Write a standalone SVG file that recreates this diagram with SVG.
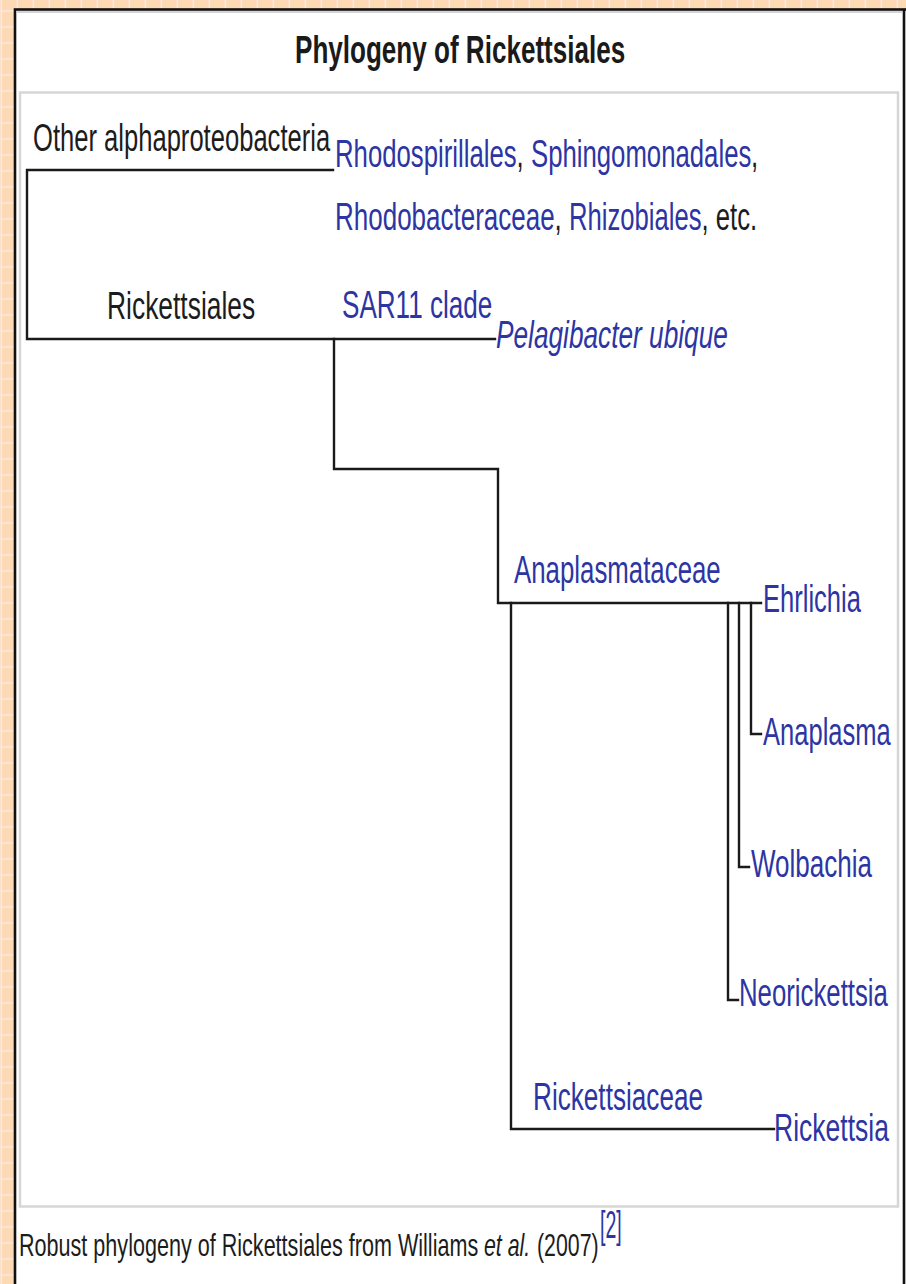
<svg xmlns="http://www.w3.org/2000/svg" width="906" height="1284" viewBox="0 0 906 1284">
<defs>
<pattern id="chk" patternUnits="userSpaceOnUse" x="0" y="0" width="16" height="16">
<rect width="16" height="16" fill="#fddab3"/>
<rect x="0.5" y="0" width="1.6" height="16" fill="#fbe6e4"/>
<rect x="0" y="10.3" width="16" height="1.6" fill="#fbe6e4"/>
</pattern>
<style>
.t{font-family:"Liberation Sans",Arial,sans-serif;font-size:38px}
.c{font-size:31px}
.lk{fill:#2c35a3}
.bk{fill:#1c1c1c}
.it{font-style:italic}
.br{fill:none;stroke:#1a1a1a;stroke-width:2.4;stroke-linecap:square;stroke-linejoin:miter}
</style>
</defs>
<rect width="906" height="1284" fill="url(#chk)"/>
<rect x="15" y="9.5" width="900" height="1290" fill="#ffffff" stroke="#111" stroke-width="2.6"/>
<line x1="16.5" y1="12" x2="902" y2="12" stroke="#d4d4d4" stroke-width="2"/>
<line x1="904" y1="9" x2="904" y2="1284" stroke="#111" stroke-width="2.6"/>
<rect x="20" y="92.5" width="878" height="1114" fill="none" stroke="#d6d6d6" stroke-width="2.5"/>

<g id="title"><text class="t" transform="translate(295 63) scale(0.65 1)" font-weight="bold" font-size="40" textLength="508" lengthAdjust="spacingAndGlyphs" fill="#1a1a1a">Phylogeny of Rickettsiales</text></g>

<g id="connectors">
<polyline class="br" points="333,170 27,170 27,339 495,339"/>
<polyline class="br" points="334,339 334,469 498,469 498,603 761,603"/>
<polyline class="br" points="511,603 511,1129 774,1129"/>
<polyline class="br" points="751,603 751,734 761,734"/>
<polyline class="br" points="739,603 739,867 749,867"/>
<polyline class="br" points="728,603 728,1000 738,1000"/>
</g>

<g id="node-other"><text class="t bk" transform="translate(33 151) scale(0.68 1)" textLength="437" lengthAdjust="spacingAndGlyphs">Other alphaproteobacteria</text></g>
<g id="node-other-members">
<text class="t lk" transform="translate(335 167) scale(0.68 1)" textLength="267" lengthAdjust="spacingAndGlyphs">Rhodospirillales</text>
<text class="t bk" transform="translate(516.5 167) scale(0.68 1)">,</text>
<text class="t lk" transform="translate(531 167) scale(0.68 1)" textLength="324" lengthAdjust="spacingAndGlyphs">Sphingomonadales</text>
<text class="t bk" transform="translate(751 167) scale(0.68 1)">,</text>
<text class="t lk" transform="translate(335 230) scale(0.68 1)" textLength="323" lengthAdjust="spacingAndGlyphs">Rhodobacteraceae</text>
<text class="t bk" transform="translate(554.5 230) scale(0.68 1)">,</text>
<text class="t lk" transform="translate(569 230) scale(0.68 1)" textLength="195" lengthAdjust="spacingAndGlyphs">Rhizobiales</text>
<text class="t bk" transform="translate(701.5 230) scale(0.68 1)" textLength="82" lengthAdjust="spacingAndGlyphs">, etc.</text>
</g>
<g id="node-rickettsiales"><text class="t bk" transform="translate(107 319) scale(0.68 1)" textLength="218" lengthAdjust="spacingAndGlyphs">Rickettsiales</text></g>
<g id="node-sar11"><text class="t lk" transform="translate(342 318) scale(0.68 1)" textLength="221" lengthAdjust="spacingAndGlyphs">SAR11 clade</text></g>
<g id="node-pelagibacter"><text class="t lk it" transform="translate(496 348) scale(0.68 1)" textLength="341" lengthAdjust="spacingAndGlyphs">Pelagibacter ubique</text></g>
<g id="node-anaplasmataceae"><text class="t lk" transform="translate(514 583) scale(0.68 1)" textLength="304" lengthAdjust="spacingAndGlyphs">Anaplasmataceae</text></g>
<g id="node-ehrlichia"><text class="t lk" transform="translate(763 612) scale(0.68 1)" textLength="144" lengthAdjust="spacingAndGlyphs">Ehrlichia</text></g>
<g id="node-anaplasma"><text class="t lk" transform="translate(763 745) scale(0.68 1)" textLength="188" lengthAdjust="spacingAndGlyphs">Anaplasma</text></g>
<g id="node-wolbachia"><text class="t lk" transform="translate(751 877) scale(0.68 1)" textLength="178" lengthAdjust="spacingAndGlyphs">Wolbachia</text></g>
<g id="node-neorickettsia"><text class="t lk" transform="translate(739 1006) scale(0.68 1)" textLength="219" lengthAdjust="spacingAndGlyphs">Neorickettsia</text></g>
<g id="node-rickettsiaceae"><text class="t lk" transform="translate(533 1110) scale(0.68 1)" textLength="250" lengthAdjust="spacingAndGlyphs">Rickettsiaceae</text></g>
<g id="node-rickettsia"><text class="t lk" transform="translate(774 1141) scale(0.68 1)" textLength="169" lengthAdjust="spacingAndGlyphs">Rickettsia</text></g>

<g id="caption">
<text class="t c bk" transform="translate(19 1256) scale(0.7 1)" textLength="656" lengthAdjust="spacingAndGlyphs">Robust phylogeny of Rickettsiales from Williams</text>
<text class="t c bk it" transform="translate(484 1256) scale(0.7 1)" textLength="66" lengthAdjust="spacingAndGlyphs">et al.</text>
<text class="t c bk" transform="translate(537 1256) scale(0.7 1)" textLength="88" lengthAdjust="spacingAndGlyphs">(2007)</text>
<text class="t lk" font-size="22" transform="translate(600 1238) scale(0.7 1)" textLength="31" lengthAdjust="spacingAndGlyphs">[2]</text>
</g>
</svg>
